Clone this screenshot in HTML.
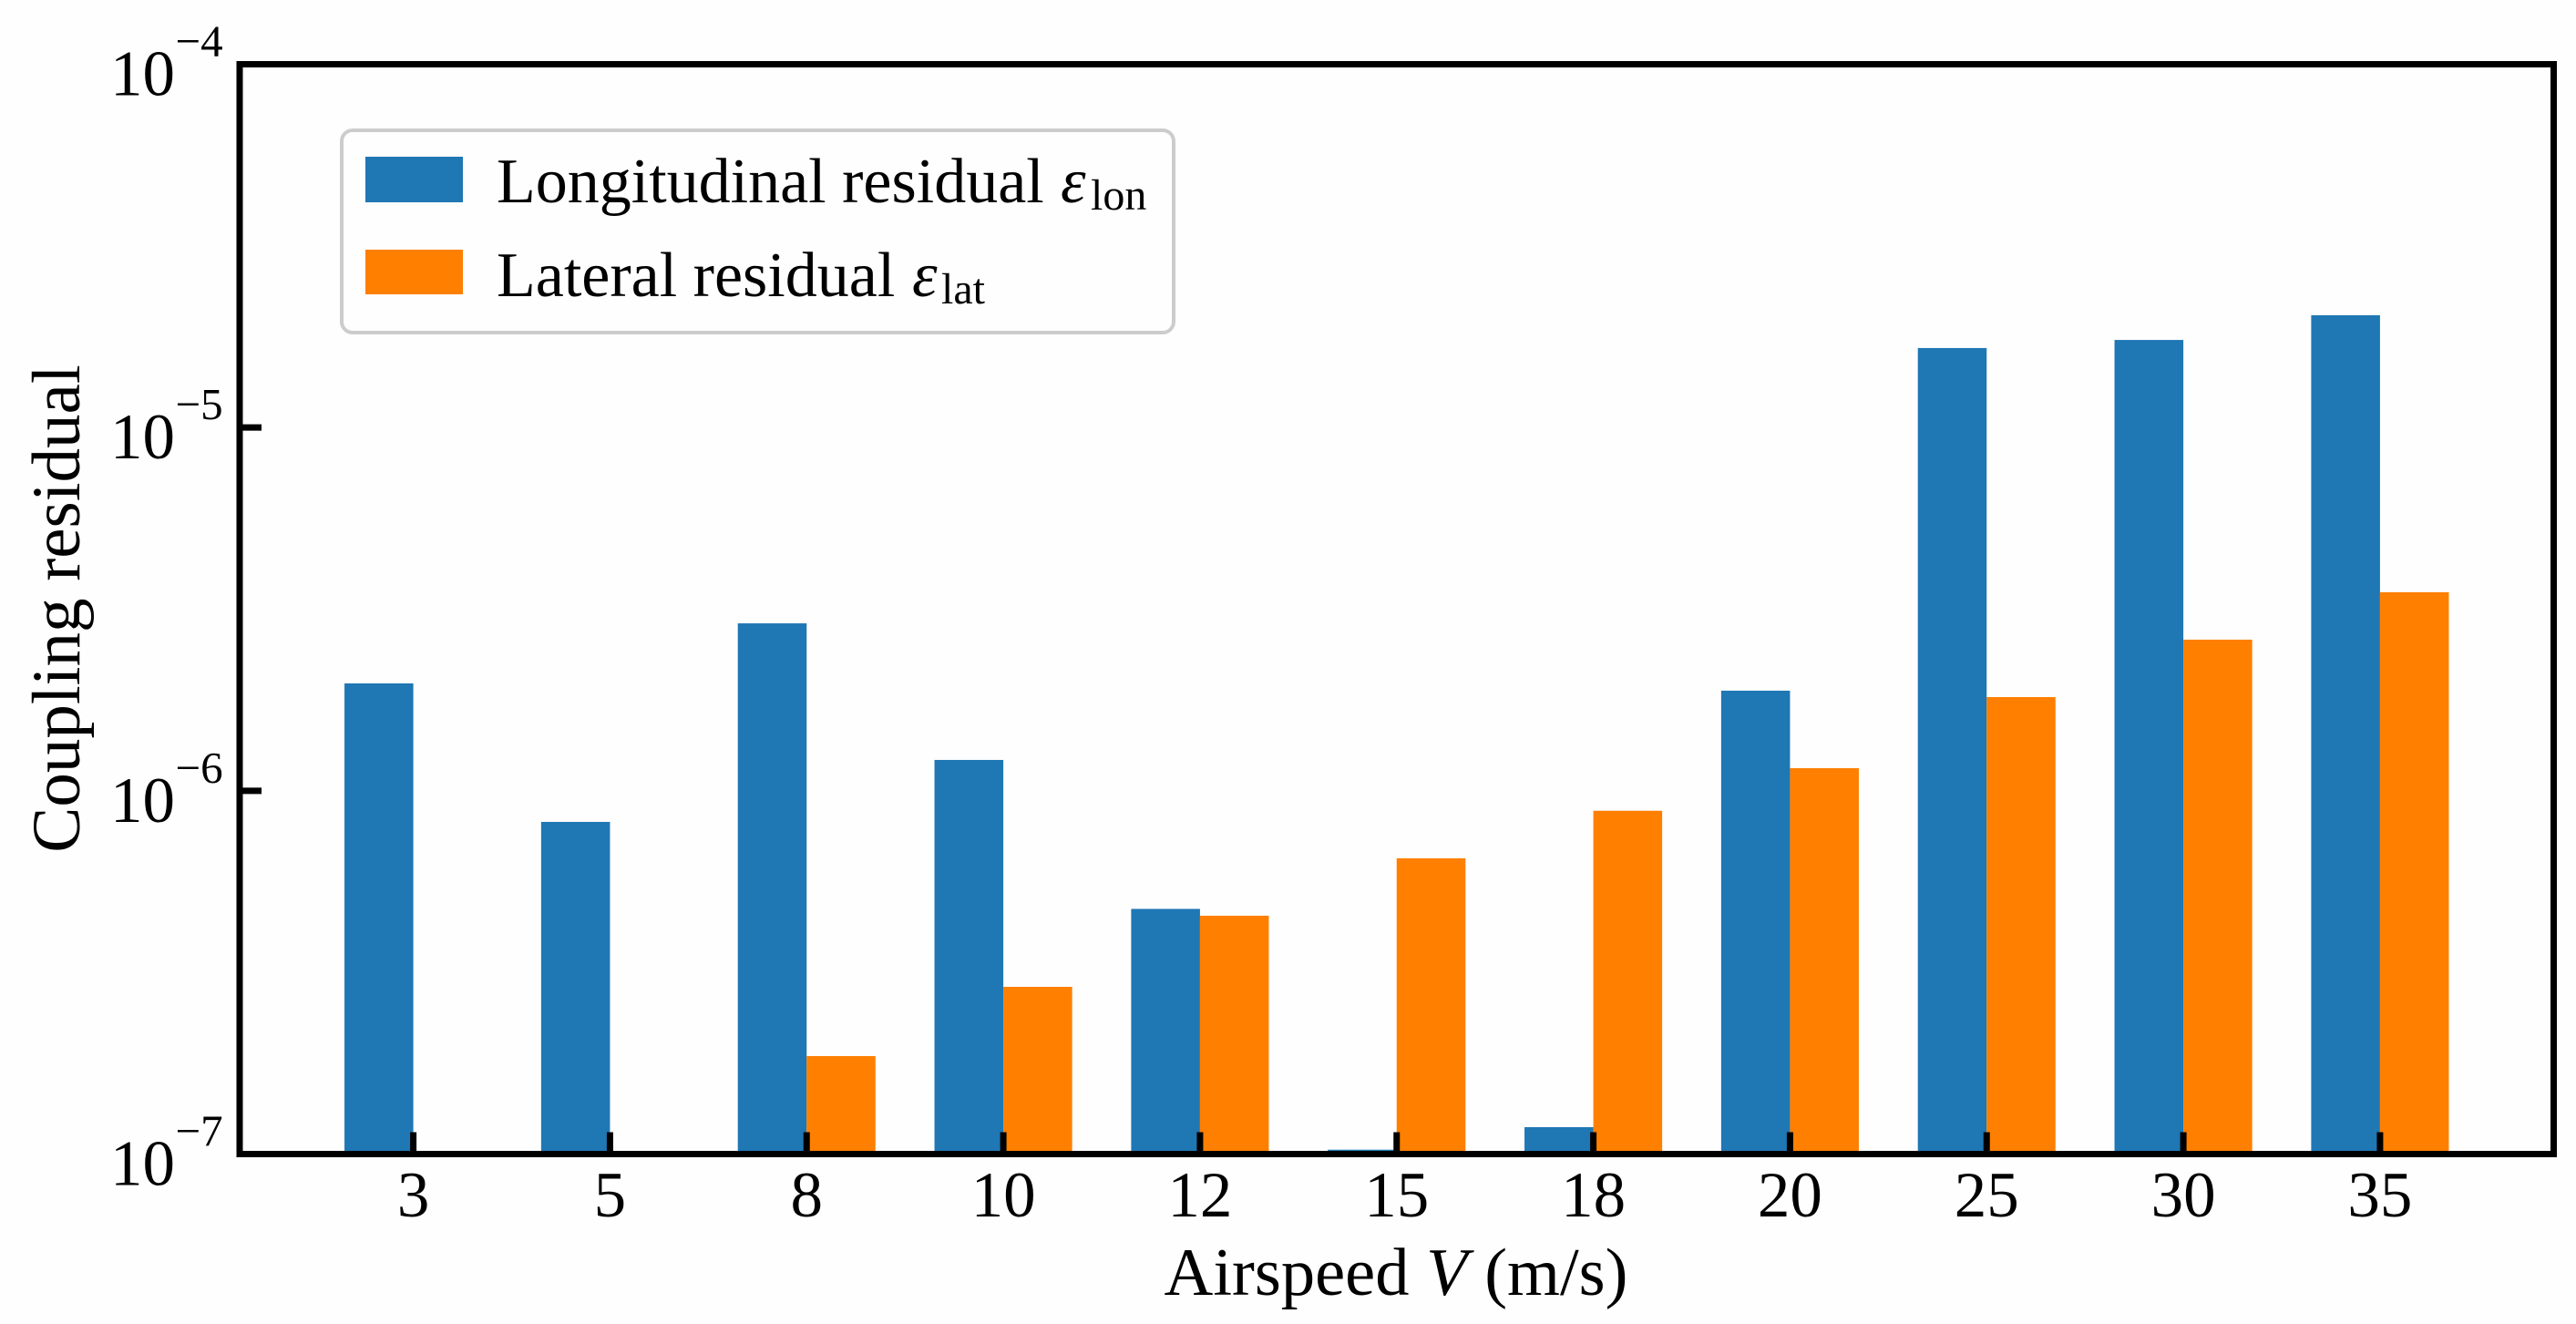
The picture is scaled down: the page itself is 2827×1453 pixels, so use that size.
<!DOCTYPE html>
<html lang="en">
<head>
<meta charset="utf-8">
<title>Coupling residual vs airspeed</title>
<style>
  html, body { margin: 0; padding: 0; background: #fefefe; }
  svg { display: block; font-family: "Liberation Serif", serif; fill: #000; }
</style>
</head>
<body>
<svg id="chart" xmlns="http://www.w3.org/2000/svg" width="2827" height="1453" viewBox="0 0 2827 1453">
  <rect x="0" y="0" width="2827" height="1453" fill="#fefefe"/>
  <g id="bars"></g>
  <g id="x-ticks"></g>
  <g id="y-ticks"></g>
  <rect x="263" y="70.5" width="2539.5" height="1196" fill="none" stroke="#000" stroke-width="7"/>
  <text x="1532" y="1421" font-size="74.5" text-anchor="middle">Airspeed <tspan font-style="italic">V</tspan> (m/s)</text>
  <text transform="translate(87 668) rotate(-90)" font-size="75" text-anchor="middle">Coupling residual</text>
  <g>
    <rect x="375" y="143" width="913" height="222" rx="12" ry="12" fill="#fefefe" stroke="#cccccc" stroke-width="4"/>
    <rect x="401" y="172" width="107" height="50" fill="#1f77b4"/>
    <rect x="401" y="274" width="107" height="49" fill="#ff7f00"/>
    <text x="545" y="222" font-size="70">Longitudinal residual</text>
    <text x="1164" y="222" font-size="70" font-style="italic">ε</text>
    <text x="1197" y="230" font-size="48">lon</text>
    <text x="545" y="325" font-size="70">Lateral residual</text>
    <text x="1001" y="325" font-size="70" font-style="italic">ε</text>
    <text x="1033" y="333" font-size="48">lat</text>
  </g>
</svg>
<script>
const categories = ["3", "5", "8", "10", "12", "15", "18", "20", "25", "30", "35"];
const longitudinalResidual = [1.975e-6, 8.21e-7, 2.89e-6, 1.216e-6, 4.73e-7, 1.028e-7, 1.186e-7, 1.886e-6, 1.655e-5, 1.742e-5, 2.037e-5];
const lateralResidual = [null, null, 1.861e-7, 2.886e-7, 4.53e-7, 6.52e-7, 8.81e-7, 1.154e-6, 1.811e-6, 2.606e-6, 3.52e-6];
const yTickExponents = [-7, -6, -5, -4];

const SVG_NS = "http://www.w3.org/2000/svg";
const plotLeft = 263, plotRight = 2802.5, plotTop = 70.5, plotBottom = 1266.5;
const xMin = -0.883, xMax = 10.883, yMinExp = -7, yMaxExp = -4;
const barWidth = 0.35;

function xScale(i) {
  return plotLeft + (i - xMin) / (xMax - xMin) * (plotRight - plotLeft);
}
function yScaleExp(e) {
  return plotBottom - (e - yMinExp) / (yMaxExp - yMinExp) * (plotBottom - plotTop);
}
function yScale(v) {
  return yScaleExp(Math.log10(v));
}
function make(tag, attrs, parent) {
  const el = document.createElementNS(SVG_NS, tag);
  for (const k in attrs) el.setAttribute(k, attrs[k]);
  parent.appendChild(el);
  return el;
}

const barsGroup = document.getElementById("bars");
const xTicksGroup = document.getElementById("x-ticks");
const yTicksGroup = document.getElementById("y-ticks");
const unit = xScale(1) - xScale(0);

function drawBar(value, i, offset, color, prefix) {
  if (value === null || value <= 0) return;
  const top = Math.max(yScale(value), plotTop);
  const h = plotBottom - top;
  if (h <= 0) return;
  const bar = make("rect", { x: xScale(i) + offset * unit, y: top, width: barWidth * unit, height: h, fill: color }, barsGroup);
  
  
}

categories.forEach(function (label, i) {
  drawBar(longitudinalResidual[i], i, -barWidth, "#1f77b4", "longitudinal");
  drawBar(lateralResidual[i], i, 0, "#ff7f00", "lateral");

  const tick = make("line", { x1: xScale(i), x2: xScale(i), y1: plotBottom, y2: plotBottom - 24, stroke: "#000", "stroke-width": 7 }, xTicksGroup);
  
  

  const text = make("text", { x: xScale(i), y: plotBottom + 68.5, "font-size": 71, "text-anchor": "middle" }, xTicksGroup);
  text.textContent = label;
  
  
});

yTickExponents.forEach(function (e) {
  const y = yScaleExp(e);
  const tick = make("line", { x1: plotLeft, x2: plotLeft + 24, y1: y, y2: y, stroke: "#000", "stroke-width": 7 }, yTicksGroup);
  
  

  const base = make("text", { x: 121, y: y + 34, "font-size": 71 }, yTicksGroup);
  base.textContent = "10";
  
  

  const exp = make("text", { x: 192.5, y: y - 9, "font-size": 49 }, yTicksGroup);
  exp.textContent = "\u2212" + Math.abs(e);
  
  
});
</script>
</body>
</html>
